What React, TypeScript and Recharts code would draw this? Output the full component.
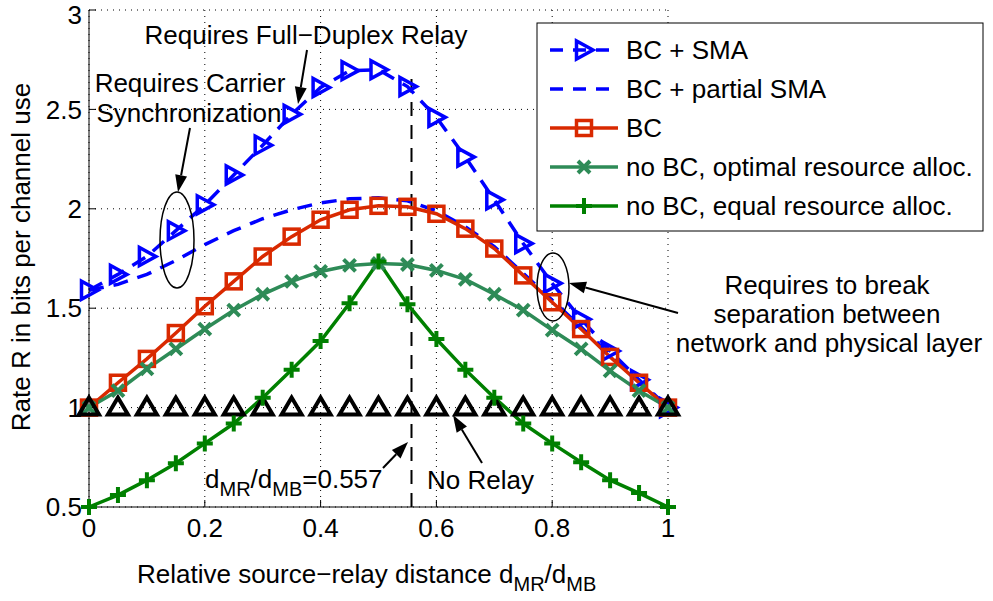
import React from "react";
import {
  LineChart,
  Line,
  XAxis,
  YAxis,
  CartesianGrid,
  ReferenceLine,
} from "recharts";

const FONT = '"Liberation Sans", Arial, Helvetica, sans-serif';

// relative source-relay distance d_MR/d_MB
const distance = [0, 0.05, 0.1, 0.15, 0.2, 0.25, 0.3, 0.35, 0.4, 0.45, 0.5, 0.55, 0.6, 0.65, 0.7, 0.75, 0.8, 0.85, 0.9, 0.95, 1];

const bcSma = [1.59, 1.67, 1.76, 1.89, 2.02, 2.17, 2.32, 2.475, 2.61, 2.695, 2.7, 2.615, 2.46, 2.26, 2.045, 1.825, 1.625, 1.445, 1.285, 1.14, 1.0];
const bcPartialSma = [1.59, 1.62, 1.67, 1.74, 1.82, 1.89, 1.95, 1.995, 2.03, 2.05, 2.055, 2.04, 1.99, 1.91, 1.81, 1.675, 1.54, 1.405, 1.265, 1.13, 1.0];
const bc = [1.0, 1.125, 1.245, 1.375, 1.51, 1.635, 1.76, 1.86, 1.945, 1.995, 2.015, 2.01, 1.975, 1.9, 1.8, 1.665, 1.53, 1.395, 1.255, 1.125, 1.0];
const noBcOptimal = [1.0, 1.085, 1.195, 1.295, 1.395, 1.49, 1.57, 1.635, 1.685, 1.715, 1.725, 1.72, 1.69, 1.645, 1.57, 1.49, 1.39, 1.295, 1.185, 1.085, 1.0];
const noBcEqual = [0.5, 0.56, 0.635, 0.72, 0.82, 0.92, 1.05, 1.19, 1.335, 1.525, 1.735, 1.52, 1.345, 1.19, 1.05, 0.92, 0.82, 0.725, 0.635, 0.57, 0.5];
const noRelay = [1, 1, 1, 1, 1, 1, 1, 1, 1, 1, 1, 1, 1, 1, 1, 1, 1, 1, 1, 1, 1];

const xTicks = [0, 0.2, 0.4, 0.6, 0.8, 1];
const yTicks = [0.5, 1, 1.5, 2, 2.5, 3];
const optimumDistance = 0.557;

const legendLabels = [
  "BC + SMA",
  "BC + partial SMA",
  "BC",
  "no BC, optimal resource alloc.",
  "no BC, equal resource alloc.",
];

const BLUE = "#0000ff";
const RED = "#d92900";
const TEAL = "#2e8b57";
const GREEN = "#008000";

const data = distance.map((x, i) => ({
  x,
  bcSma: bcSma[i],
  bcPartialSma: bcPartialSma[i],
  bc: bc[i],
  noBcOptimal: noBcOptimal[i],
  noBcEqual: noBcEqual[i],
  noRelay: noRelay[i],
}));

// marker shapes
const rightTri = (cx: number, cy: number, key?: string) => (
  <polygon key={key} points={`${cx - 7.5},${cy - 9} ${cx - 7.5},${cy + 9} ${cx + 9},${cy}`} fill="none" stroke={BLUE} strokeWidth={3.5} />
);
const square = (cx: number, cy: number, key?: string) => (
  <rect key={key} x={cx - 7.5} y={cy - 7.5} width={15} height={15} fill="none" stroke={RED} strokeWidth={3.5} />
);
const cross = (cx: number, cy: number, key?: string) => (
  <path key={key} d={`M${cx - 6},${cy - 6}L${cx + 6},${cy + 6}M${cx - 6},${cy + 6}L${cx + 6},${cy - 6}`} stroke={TEAL} strokeWidth={4} />
);
const plus = (cx: number, cy: number, key?: string) => (
  <path key={key} d={`M${cx - 8},${cy}L${cx + 8},${cy}M${cx},${cy - 8}L${cx},${cy + 8}`} stroke={GREEN} strokeWidth={4} />
);
const upTri = (cx: number, cy: number, key?: string) => (
  <polygon key={key} points={`${cx},${cy - 10} ${cx - 10},${cy + 7} ${cx + 10},${cy + 7}`} fill="none" stroke="#000" strokeWidth={4} />
);

const dotOf = (shape: (cx: number, cy: number, key?: string) => React.ReactElement) =>
  // eslint-disable-next-line @typescript-eslint/no-explicit-any
  (props: any) => shape(props.cx, props.cy, `dot-${props.index}`);

const Arrow = ({ x1, y1, x2, y2 }: { x1: number; y1: number; x2: number; y2: number }) => {
  const a = Math.atan2(y2 - y1, x2 - x1);
  const len = 17;
  const w = 6;
  const bx = x2 - len * Math.cos(a);
  const by = y2 - len * Math.sin(a);
  const px = -Math.sin(a) * w;
  const py = Math.cos(a) * w;
  return (
    <g>
      <line x1={x1} y1={y1} x2={bx} y2={by} stroke="#000" strokeWidth={2} />
      <polygon points={`${x2},${y2} ${bx + px},${by + py} ${bx - px},${by - py}`} fill="#000" />
    </g>
  );
};

const Overlay = () => {
  const rowY = [50, 89, 128, 167, 206];
  const markers = [rightTri, null, square, cross, plus];
  const strokes = [BLUE, BLUE, RED, TEAL, GREEN];
  return (
    <svg width={993} height={601} style={{ position: "absolute", left: 0, top: 0, pointerEvents: "none" }} fontFamily={FONT}>
      {/* axis titles */}
      <text x={30} y={257} fontSize={26} textAnchor="middle" transform="rotate(-90, 30, 257)">
        Rate R in bits per channel use
      </text>
      <text x={137} y={583} fontSize={26}>
        Relative source−relay distance d<tspan fontSize={20} dy={8}>MR</tspan>
        <tspan dy={-8}>/d</tspan>
        <tspan fontSize={20} dy={8}>MB</tspan>
      </text>

      {/* annotations */}
      <text x={306} y={44} fontSize={26} textAnchor="middle">Requires Full−Duplex Relay</text>
      <Arrow x1={307} y1={50} x2={298} y2={104} />
      <text x={190} y={92} fontSize={26} textAnchor="middle">Requires Carrier</text>
      <text x={189} y={122} fontSize={26} textAnchor="middle">Synchronization</text>
      <Arrow x1={190} y1={128} x2={178} y2={192} />
      <ellipse cx={177} cy={240} rx={17} ry={48} fill="none" stroke="#000" strokeWidth={1.5} />

      <ellipse cx={553} cy={287} rx={16} ry={34} fill="none" stroke="#000" strokeWidth={1.5} />
      <Arrow x1={678} y1={313} x2={569} y2={283} />
      <text x={827} y={294} fontSize={26} textAnchor="middle">Requires to break</text>
      <text x={827} y={323} fontSize={26} textAnchor="middle">separation between</text>
      <text x={829} y={352} fontSize={26} textAnchor="middle">network and physical layer</text>

      <text x={205} y={488} fontSize={26}>
        d<tspan fontSize={20} dy={8}>MR</tspan>
        <tspan dy={-8}>/d</tspan>
        <tspan fontSize={20} dy={8}>MB</tspan>
        <tspan dy={-8}>=0.557</tspan>
      </text>
      <Arrow x1={383} y1={468} x2={408} y2={442} />
      <text x={427} y={489} fontSize={26}>No Relay</text>
      <Arrow x1={482} y1={463} x2={453} y2={415} />

      {/* legend */}
      <rect x={537} y={23} width={446} height={208} fill="#fff" stroke="#000" strokeWidth={1} />
      {legendLabels.map((label, i) => {
        const y = rowY[i];
        const m = markers[i];
        return (
          <g key={label}>
            <line
              x1={550}
              y1={y}
              x2={618}
              y2={y}
              stroke={strokes[i]}
              strokeWidth={3.5}
              strokeDasharray={i < 2 ? "13 10" : undefined}
            />
            {m && m(584, y)}
            <text x={626} y={y} dy="0.35em" fontSize={26}>{label}</text>
          </g>
        );
      })}
    </svg>
  );
};

const App: React.FC = () => {
  const tickStyle = { fill: "#000", fontSize: 26, fontFamily: FONT };
  return (
    <div style={{ position: "absolute", left: 0, top: 0, width: 993, height: 601, background: "#fff" }}>
      <LineChart width={993} height={601} data={data} margin={{ top: 10, right: 325, bottom: 34, left: 29 }}>
        <CartesianGrid stroke="#000" strokeDasharray="1 5" strokeWidth={1} />
        <XAxis
          dataKey="x"
          type="number"
          domain={[0, 1]}
          ticks={xTicks}
          height={60}
          tickSize={-7}
          tickMargin={19}
          tick={tickStyle}
          stroke="#000"
          axisLine={{ stroke: "#000" }}
          tickLine={{ stroke: "#000" }}
          tickFormatter={(v: number) => String(v)}
        />
        <XAxis
          xAxisId="top"
          orientation="top"
          dataKey="x"
          type="number"
          domain={[0, 1]}
          ticks={xTicks}
          height={0}
          tickSize={-7}
          tick={false}
          axisLine={{ stroke: "#000" }}
          tickLine={{ stroke: "#000" }}
        />
        <YAxis
          type="number"
          domain={[0.5, 3]}
          ticks={yTicks}
          width={60}
          tickSize={-7}
          tickMargin={14}
          tick={tickStyle}
          axisLine={{ stroke: "#000" }}
          tickLine={{ stroke: "#000" }}
          tickFormatter={(v: number) => String(v)}
        />
        <YAxis
          yAxisId="right"
          orientation="right"
          type="number"
          domain={[0.5, 3]}
          ticks={yTicks}
          width={0}
          tickSize={-7}
          tick={false}
          axisLine={{ stroke: "#000" }}
          tickLine={{ stroke: "#000" }}
        />
        <ReferenceLine
          segment={[
            { x: optimumDistance, y: 0.5 },
            { x: optimumDistance, y: 2.685 },
          ]}
          stroke="#000"
          strokeWidth={2}
          strokeDasharray="14 9"
        />
        <Line dataKey="bcSma" stroke={BLUE} strokeWidth={3.5} strokeDasharray="15 10" dot={dotOf(rightTri)} isAnimationActive={false} />
        <Line dataKey="bcPartialSma" stroke={BLUE} strokeWidth={3.5} strokeDasharray="15 10" dot={false} isAnimationActive={false} />
        <Line dataKey="bc" stroke={RED} strokeWidth={3.5} dot={dotOf(square)} isAnimationActive={false} />
        <Line dataKey="noBcOptimal" stroke={TEAL} strokeWidth={3.5} dot={dotOf(cross)} isAnimationActive={false} />
        <Line dataKey="noRelay" stroke="none" strokeWidth={0} dot={dotOf(upTri)} isAnimationActive={false} />
        <Line dataKey="noBcEqual" stroke={GREEN} strokeWidth={3.5} dot={dotOf(plus)} isAnimationActive={false} />
      </LineChart>
      <Overlay />
    </div>
  );
};

export default App;
